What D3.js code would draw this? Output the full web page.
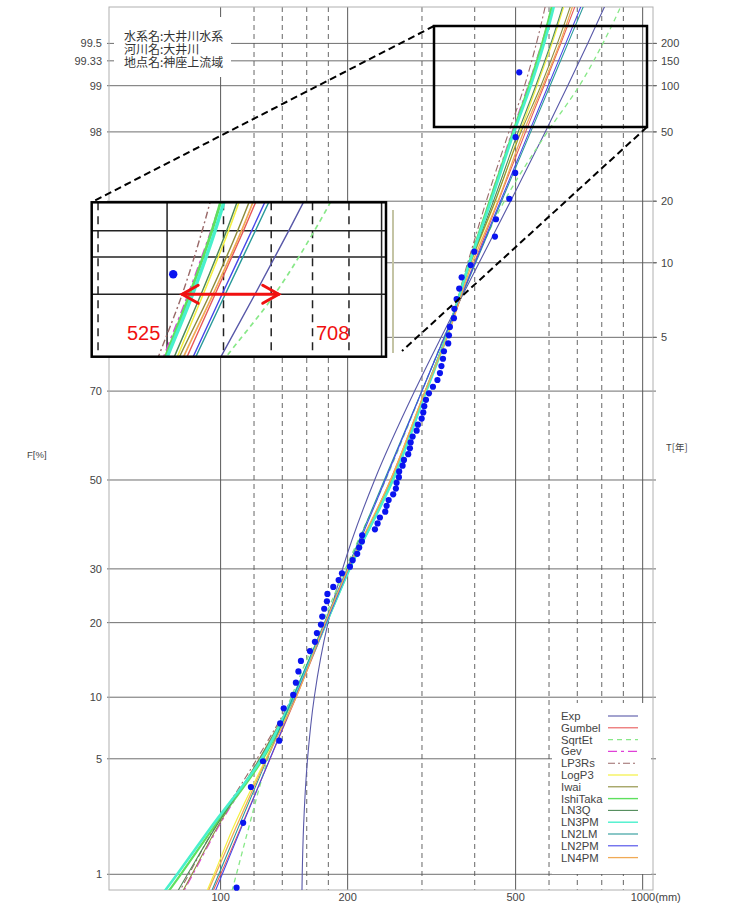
<!DOCTYPE html>
<html><head><meta charset="utf-8">
<script src="https://cdn.jsdelivr.net/npm/d3@7"></script>
<style>
body{margin:0;background:#fff;position:relative;}
svg{display:block;}
text{font-family:"Liberation Sans",Arial,sans-serif;}
#info{position:absolute;left:124px;top:29px;font-family:"Noto Sans CJK JP",sans-serif;font-size:12px;line-height:13px;white-space:pre;color:#333;}
</style>
</head><body>
<svg id="c" width="729" height="905"></svg>
<div id="info"></div>
<script>
// ---------------- DATA ----------------
// non-exceedance probability levels (%) at which each fitted model is read
const probLevels = [0.5, 1, 2, 5, 10, 20, 30, 50, 70, 80, 90, 95, 98, 99, 99.5, 99.8];
// fitted quantiles (mm) for each distribution model
const expVals      = [155.6, 156.1, 157.2, 160.7, 166.7, 179.7, 194.5, 231.7, 288.2, 333.0, 409.7, 486.4, 587.7, 664.3, 741.0, 842.4];
const gumbelVals   = [90, 100, 111.5, 131, 151, 178.5, 202, 252.5, 305, 342, 399, 455, 528, 584, 640, 712];
const sqrtEtVals   = [102.5, 109, 116.5, 129.5, 147, 174.5, 197.5, 246, 300, 338, 400, 470, 595, 708, 805, 920];
const gevVals      = [76, 86, 98.5, 124, 149, 177.5, 201.5, 255, 305.5, 342, 388, 433, 490, 535, 576, 625];
const lp3rsVals    = [74.2, 84.1, 96.6, 122, 148, 177, 201, 255, 306, 342, 385, 426, 482, 525, 560, 598];
const logp3Vals    = [87.5, 96.5, 107, 128, 150.5, 177, 200.5, 253, 305, 343, 392, 448, 512, 562, 610, 666];
const iwaiVals     = [75.5, 85.5, 98, 123.5, 148.5, 177, 201, 254.5, 306, 343, 391, 447, 515, 574, 628, 692];
const ishiTakaVals = [68, 80.5, 96, 126, 149, 178, 202, 255.5, 306.5, 342, 388, 434, 493, 538, 578, 621];
const ln3qVals     = [73, 83.5, 97, 124, 149, 177.5, 201.5, 255, 306, 343, 390, 443, 507, 558, 606, 662];
const ln3pmVals    = [66.5, 78.9, 94.6, 125, 148.5, 178, 202, 256, 307, 343, 389, 437, 496, 543, 584, 628];
const ln2lmVals    = [89.8, 99.0, 110, 128.9, 148.5, 176.2, 199.3, 244.3, 299.6, 338.9, 402.1, 463.1, 542.9, 603.4, 665.1, 747.8];
const ln2pmVals    = [91.7, 100.9, 111.9, 130.9, 150.4, 178, 200.9, 245.5, 299.9, 338.6, 400.6, 460.3, 538.3, 597.2, 657.2, 737.4];
const ln4pmVals    = [88, 97.3, 108.6, 128.6, 151, 177, 200.5, 253, 305.5, 344, 395, 454, 522, 580, 636, 700];
// observed annual maxima (mm), sorted
const observed = [109.1, 113.1, 118.0, 126.0, 137.7, 138.4, 141.1, 148.6, 150.8, 152.9,
  155.0, 162.8, 167.3, 169.1, 172.9, 174.1, 176.0, 178.6, 179.1, 184.9,
  190.4, 193.9, 202.5, 205.5, 210.7, 213.0, 216.2, 216.5, 232.1, 235.5,
  238.5, 245.5, 247.4, 250.1, 256.4, 260.2, 261.2, 264.5, 264.9, 269.9,
  271.9, 278.3, 280.9, 282.0, 285.1, 291.4, 293.5, 299.5, 302.1, 303.8,
  306.6, 311.6, 318.5, 326.4, 330.9, 333.6, 336.4, 338.2, 346.2, 347.5,
  349.4, 357.1, 358.0, 362.4, 367.6, 372.5, 391.2, 399.0, 446.7, 449.2,
  483.0, 499.0, 500.0, 510.0];
// axes
const leftTickLabels = [1, 5, 10, 20, 30, 50, 70, 98, 99, 99.33, 99.5];
const hGridProbs = [1, 5, 10, 20, 30, 50, 70, 80, 90, 95, 98, 99, 99.33, 99.5];
const returnPeriods = [5, 10, 20, 50, 100, 150, 200];
const xSolidGrid = [100, 200, 500, 1000];
const xDashedGrid = [120, 140, 160, 180, 300, 400, 600, 700, 800, 900];
const xTickLabels = [100, 200, 500];
const infoLines = ["水系名:大井川水系", "河川名:大井川", "地点名:神座上流域"];
const modelNames = ["Exp","Gumbel","SqrtEt","Gev","LP3Rs","LogP3","Iwai","IshiTaka","LN3Q","LN3PM","LN2LM","LN2PM","LN4PM"];
const modelValues = [expVals,gumbelVals,sqrtEtVals,gevVals,lp3rsVals,logp3Vals,iwaiVals,ishiTakaVals,ln3qVals,ln3pmVals,ln2lmVals,ln2pmVals,ln4pmVals];

// ---------------- STYLE ----------------
const styles = {
  Exp:{c:"#5858a8",d:null,w:1.1}, Gumbel:{c:"#e85a5a",d:null,w:1.1},
  SqrtEt:{c:"#88e888",d:"5,4",w:1.3}, Gev:{c:"#e040d8",d:"9,4,3,4",w:1.1},
  LP3Rs:{c:"#9a6a6a",d:"7,3,2,3",w:1.1}, LogP3:{c:"#f4f040",d:null,w:1.2},
  Iwai:{c:"#8c8c3c",d:null,w:1.1}, IshiTaka:{c:"#5ee05e",d:null,w:2.2},
  LN3Q:{c:"#4f8a58",d:null,w:1.1}, LN3PM:{c:"#48f0cc",d:null,w:2.6},
  LN2LM:{c:"#2a9a9a",d:null,w:1.1}, LN2PM:{c:"#4848e8",d:null,w:1.1},
  LN4PM:{c:"#f0aa55",d:null,w:1.3}
};

// ---------------- HELPERS ----------------
function qnorm(p){
  const a=[-3.969683028665376e+01,2.209460984245205e+02,-2.759285104469687e+02,1.383577518672690e+02,-3.066479806614716e+01,2.506628277459239e+00];
  const b=[-5.447609879822406e+01,1.615858368580409e+02,-1.556989798598866e+02,6.680131188771972e+01,-1.328068155288572e+01];
  const c=[-7.784894002430293e-03,-3.223964580411365e-01,-2.400758277161838e+00,-2.549732539343734e+00,4.374664141464968e+00,2.938163982698783e+00];
  const d=[7.784695709041462e-03,3.224671290700398e-01,2.445134137142996e+00,3.754408661907416e+00];
  const pl=0.02425,ph=1-pl;let q,r;
  if(p<pl){q=Math.sqrt(-2*Math.log(p));return (((((c[0]*q+c[1])*q+c[2])*q+c[3])*q+c[4])*q+c[5])/((((d[0]*q+d[1])*q+d[2])*q+d[3])*q+1);}
  if(p<=ph){q=p-0.5;r=q*q;return (((((a[0]*r+a[1])*r+a[2])*r+a[3])*r+a[4])*r+a[5])*q/(((((b[0]*r+b[1])*r+b[2])*r+b[3])*r+b[4])*r+1);}
  q=Math.sqrt(-2*Math.log(1-p));return -(((((c[0]*q+c[1])*q+c[2])*q+c[3])*q+c[4])*q+c[5])/((((d[0]*q+d[1])*q+d[2])*q+d[3])*q+1);
}
const zOf = pct => qnorm(pct/100);

const svg = d3.select("#c");
svg.append("rect").attr("width",729).attr("height",905).attr("fill","#fff");

const P = {l:109, r:653, t:7, b:890};
const x = d3.scaleLog().domain([54.4,1058]).range([P.l,P.r]);
const y = d3.scaleLinear().domain([-2.419,2.7906]).range([P.b,P.t]);

const defs = svg.append("defs");
defs.append("clipPath").attr("id","plotclip").append("rect")
  .attr("x",P.l).attr("y",P.t).attr("width",P.r-P.l).attr("height",P.b-P.t);

// ---------- grid ----------
const grid = svg.append("g");
grid.selectAll(".hg").data(hGridProbs).join("line")
  .attr("x1",P.l-2).attr("x2",P.r+3)
  .attr("y1",d=>y(zOf(d))).attr("y2",d=>y(zOf(d)))
  .attr("stroke","#6e6e6e").attr("stroke-width",1);
grid.selectAll(".vs").data(xSolidGrid).join("line")
  .attr("x1",d=>x(d)).attr("x2",d=>x(d)).attr("y1",P.t).attr("y2",P.b)
  .attr("stroke","#5a5a5a").attr("stroke-width",1);
grid.selectAll(".vd").data(xDashedGrid).join("line")
  .attr("x1",d=>x(d)).attr("x2",d=>x(d)).attr("y1",P.t).attr("y2",P.b)
  .attr("stroke","#555").attr("stroke-width",0.9).attr("stroke-dasharray","5,4");
svg.append("rect").attr("x",P.l).attr("y",P.t).attr("width",P.r-P.l).attr("height",P.b-P.t)
  .attr("fill","none").attr("stroke","#b0b0b0").attr("stroke-width",1);

// ---------- axis labels ----------
svg.selectAll(".lt").data(leftTickLabels).join("text")
  .attr("x",102).attr("y",d=>y(zOf(d))+4).attr("text-anchor","end")
  .attr("font-size",11).attr("fill","#444").text(d=>d);
svg.selectAll(".rt").data(returnPeriods).join("text")
  .attr("x",661).attr("y",d=>y(zOf(100-100/d))+4)
  .attr("font-size",11).attr("fill","#444").text(d=>d);
svg.selectAll(".rtk").data(returnPeriods).join("line")
  .attr("x1",P.r).attr("x2",P.r+4).attr("y1",d=>y(zOf(100-100/d))).attr("y2",d=>y(zOf(100-100/d)))
  .attr("stroke","#666");
svg.selectAll(".bt").data(xTickLabels).join("text")
  .attr("x",d=>x(d)).attr("y",901).attr("text-anchor","middle")
  .attr("font-size",11).attr("fill","#444").text(d=>d);
svg.append("text").attr("x",x(1000)-12).attr("y",901).attr("font-size",11).attr("fill","#444").text("1000(mm)");
svg.append("text").attr("x",27).attr("y",458).attr("font-size",9.5).attr("fill","#444").text("F[%]");
svg.append("text").attr("x",666).attr("y",451).attr("font-size",9.5).attr("fill","#444")
  .style("font-family","'Noto Sans CJK JP',sans-serif").text("T[年]");

// ---------- curves ----------
function modelPoints(vals){
  return probLevels.map((p,i)=>({z:zOf(p), v:vals[i]})).reverse();
}
function drawModels(g, xs, ys, scaleW){
  const line = d3.line().x(d=>xs(d.v)).y(d=>ys(d.z)).curve(d3.curveMonotoneY);
  modelNames.forEach((n,i)=>{
    const s = styles[n];
    g.append("path").attr("d",line(modelPoints(modelValues[i])))
      .attr("fill","none").attr("stroke",s.c).attr("stroke-width",s.w*scaleW)
      .attr("stroke-dasharray",s.d);
  });
}
const curves = svg.append("g").attr("clip-path","url(#plotclip)");
drawModels(curves, x, y, 1);

// ---------- observed points ----------
const N = observed.length;
const obsPts = observed.map((v,i)=>({v, z:qnorm((i+1-0.4)/(N+0.2))}));
svg.append("g").selectAll("circle").data(obsPts).join("circle")
  .attr("cx",d=>x(d.v)).attr("cy",d=>y(d.z)).attr("r",3.1).attr("fill","#0a14f0");

// ---------- info box ----------
svg.append("rect").attr("x",114).attr("y",17).attr("width",117).attr("height",60).attr("fill","#fff");
d3.select("#info").text(infoLines.join("\n"));

// ---------- legend ----------
const lg = svg.append("g");
lg.append("rect").attr("x",552).attr("y",703).attr("width",99).attr("height",171).attr("fill","#fff");
modelNames.forEach((n,i)=>{
  const yy = 716 + i*11.8;
  const s = styles[n];
  lg.append("text").attr("x",561).attr("y",yy+4).attr("font-size",11.3).attr("fill","#444").text(n);
  lg.append("line").attr("x1",608).attr("x2",638).attr("y1",yy).attr("y2",yy)
    .attr("stroke",s.c).attr("stroke-width",Math.min(s.w,1.4)).attr("stroke-dasharray",s.d);
});

// ---------- zoom indicator ----------
svg.append("rect").attr("x",434).attr("y",26).attr("width",213).attr("height",101)
  .attr("fill","none").attr("stroke","#000").attr("stroke-width",2.5);
svg.append("line").attr("x1",434).attr("y1",26).attr("x2",92).attr("y2",202)
  .attr("stroke","#000").attr("stroke-width",2).attr("stroke-dasharray","7,4");
svg.append("line").attr("x1",647).attr("y1",127).attr("x2",402).attr("y2",351)
  .attr("stroke","#000").attr("stroke-width",2).attr("stroke-dasharray","7,4");

// ---------- inset ----------
const I = {l:91.7, r:386, t:202.3, b:356.7};
const ix = d3.scaleLog().domain([391.9,1014.4]).range([I.l,I.r]);
const iy = d3.scaleLinear().domain([2.0815,2.6872]).range([I.b,I.t]);
defs.append("clipPath").attr("id","insetclip").append("rect")
  .attr("x",I.l).attr("y",I.t).attr("width",I.r-I.l).attr("height",I.b-I.t);
svg.append("line").attr("x1",393).attr("x2",393).attr("y1",210).attr("y2",353)
  .attr("stroke","#c4c4a4").attr("stroke-width",2);
svg.append("rect").attr("x",I.l).attr("y",I.t).attr("width",I.r-I.l).attr("height",I.b-I.t).attr("fill","#fff");
const ig = svg.append("g").attr("clip-path","url(#insetclip)");
ig.selectAll(".ihg").data(hGridProbs).join("line")
  .attr("x1",I.l).attr("x2",I.r).attr("y1",d=>iy(zOf(d))).attr("y2",d=>iy(zOf(d)))
  .attr("stroke","#222").attr("stroke-width",1.5);
ig.selectAll(".ivs").data(xSolidGrid).join("line")
  .attr("x1",d=>ix(d)).attr("x2",d=>ix(d)).attr("y1",I.t).attr("y2",I.b)
  .attr("stroke","#222").attr("stroke-width",1.5);
ig.selectAll(".ivd").data(xDashedGrid).join("line")
  .attr("x1",d=>ix(d)).attr("x2",d=>ix(d)).attr("y1",I.t).attr("y2",I.b)
  .attr("stroke","#222").attr("stroke-width",1.5).attr("stroke-dasharray","8,6");
drawModels(ig, ix, iy, 1.3);
ig.selectAll("circle").data(obsPts).join("circle")
  .attr("cx",d=>ix(d.v)).attr("cy",d=>iy(d.z)).attr("r",4.2).attr("fill","#0a14f0");
svg.append("rect").attr("x",I.l).attr("y",I.t).attr("width",I.r-I.l).attr("height",I.b-I.t)
  .attr("fill","none").attr("stroke","#000").attr("stroke-width",2.5);

// ---------- annotation ----------
const lo = lp3rsVals[probLevels.indexOf(99)], hi = sqrtEtVals[probLevels.indexOf(99)];
const ay = iy(zOf(99));
const ax1 = ix(lo), ax2 = ix(hi)+4;
const ann = svg.append("g").attr("stroke","#f01010").attr("stroke-width",3).attr("fill","none").attr("stroke-linecap","round");
ann.append("line").attr("x1",ax1).attr("x2",ax2).attr("y1",ay).attr("y2",ay);
ann.append("polyline").attr("points",`${ax1+16},${ay-9} ${ax1},${ay} ${ax1+16},${ay+9}`);
ann.append("polyline").attr("points",`${ax2-16},${ay-9} ${ax2},${ay} ${ax2-16},${ay+9}`);
svg.append("text").attr("x",127).attr("y",340).attr("font-size",20).attr("fill","#f01010").text(lo);
svg.append("text").attr("x",316).attr("y",340).attr("font-size",20).attr("fill","#f01010").text(hi);
</script>
</body></html>
